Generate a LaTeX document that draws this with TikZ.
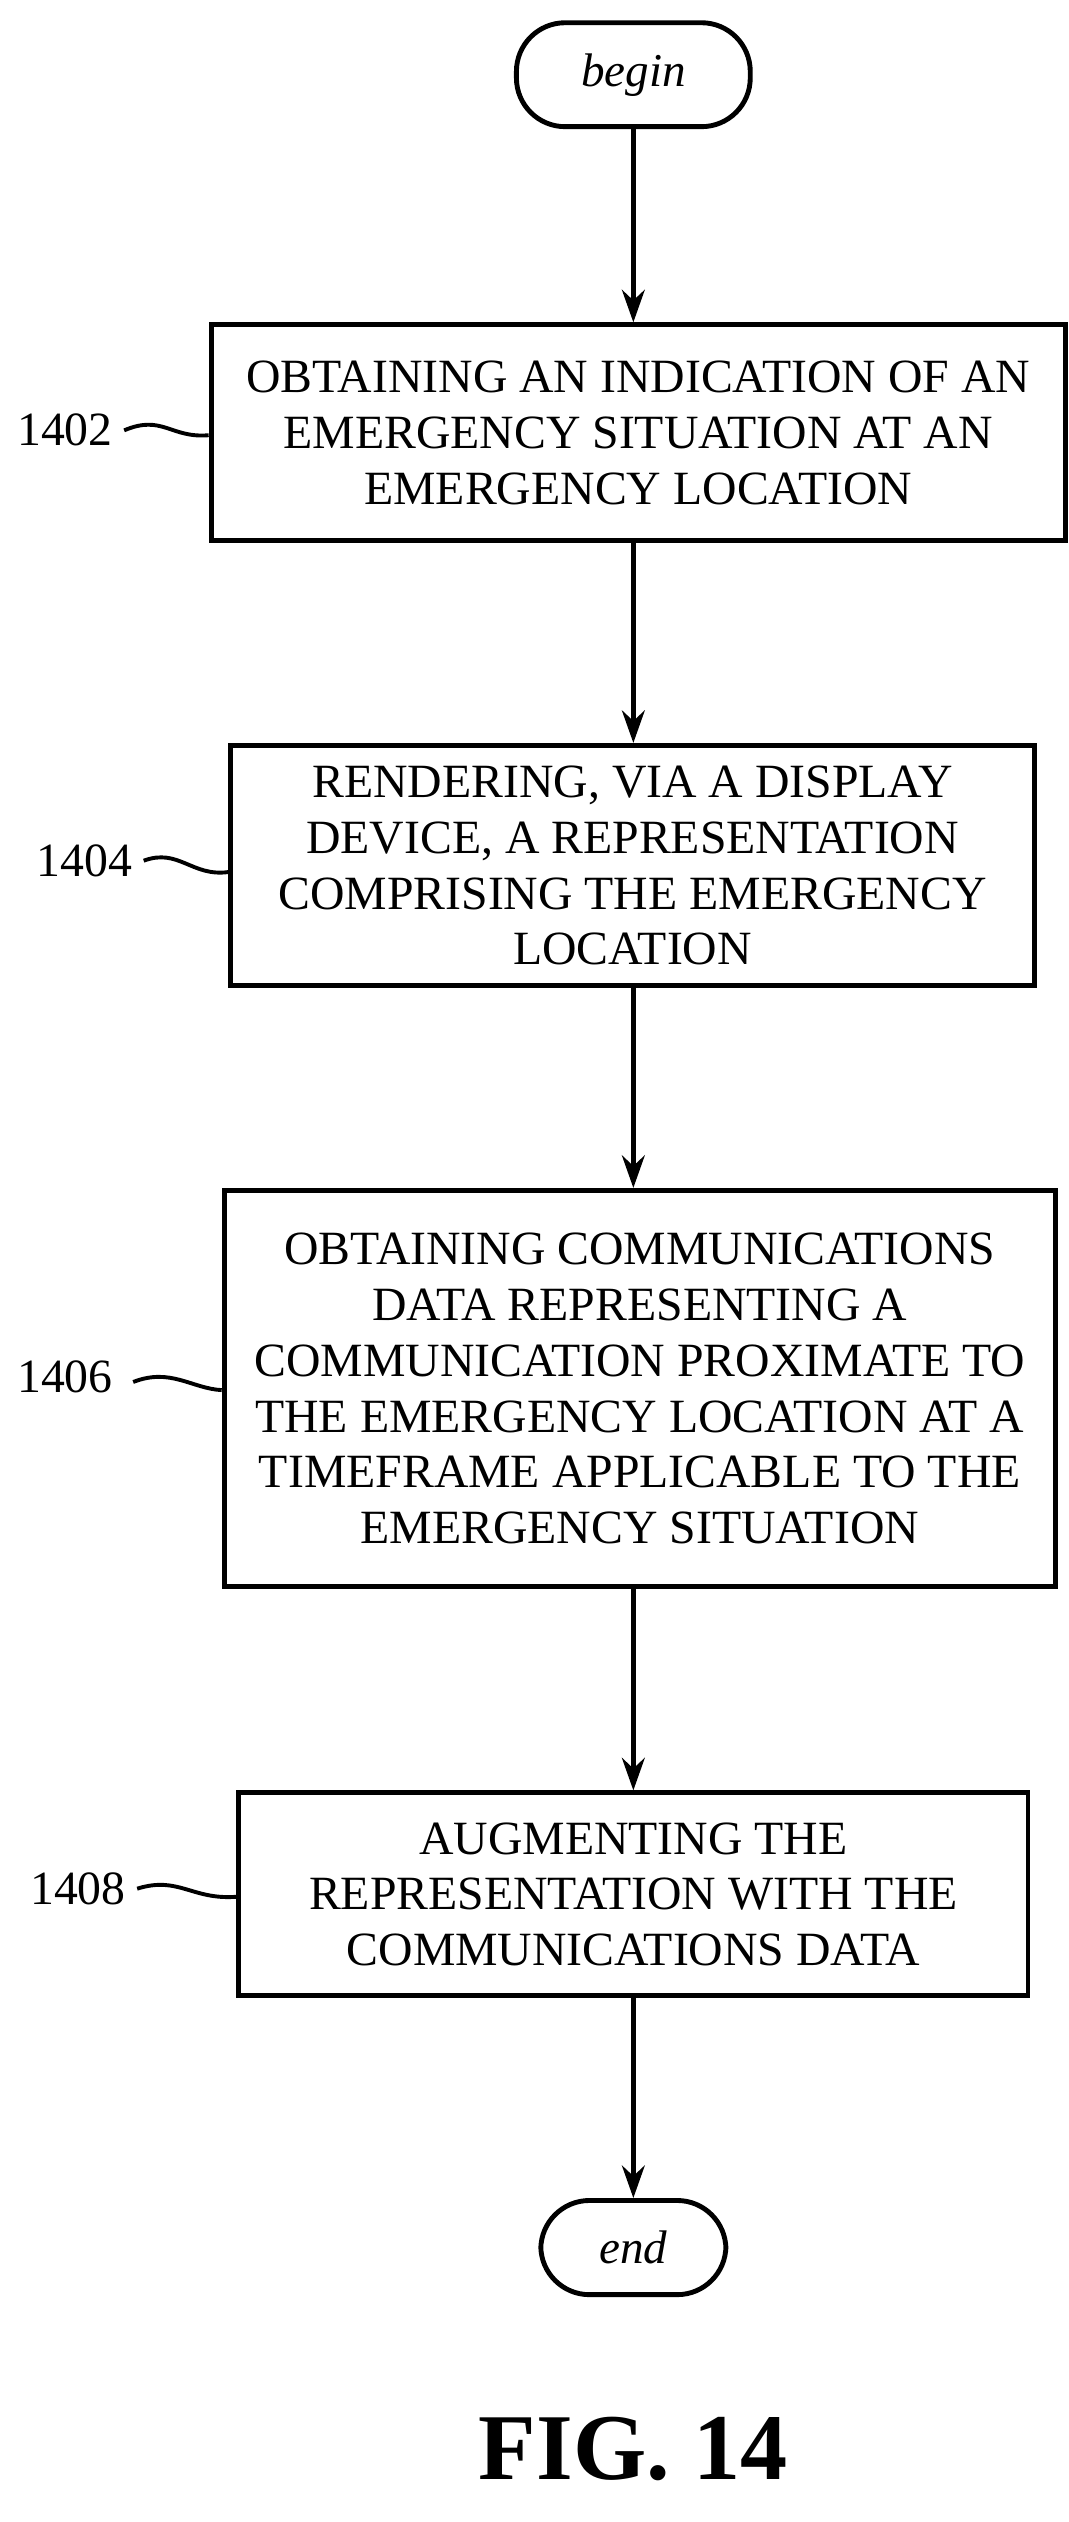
\documentclass[tikz,border=0pt]{standalone}
\usepackage{fontspec}
\setmainfont{Liberation Serif}
\usetikzlibrary{arrows.meta}
\begin{document}
\begin{tikzpicture}[x=0.5pt,y=-0.5pt,
  box/.style={draw,line width=1.5pt,inner sep=0pt,font=\fontsize{14.7}{17.2}\selectfont,align=center},
  term/.style={draw,line width=1.5pt,rounded corners=15pt,font=\fontsize{14.5}{15}\selectfont\itshape},
  arr/.style={-{Stealth[length=10pt,width=7pt]},line width=1.5pt},
  lab/.style={font=\fontsize{14.7}{15}\selectfont},
  sq/.style={line width=1.2pt}]
\useasboundingbox (0,0) rectangle (658,1553);
\node[term,minimum width=72pt,minimum height=32pt] (b) at (390,46) {begin};
\node[box,minimum width=263pt,minimum height=66.5pt] (s1) at (393,266.5) {OBTAINING AN INDICATION OF AN\\EMERGENCY SITUATION AT AN\\EMERGENCY LOCATION};
\node[box,minimum width=247.5pt,minimum height=74pt] (s2) at (389.5,533) {RENDERING, VIA A DISPLAY\\DEVICE, A REPRESENTATION\\COMPRISING THE EMERGENCY\\LOCATION};
\node[box,minimum width=256pt,minimum height=122pt] (s3) at (394,855) {OBTAINING COMMUNICATIONS\\DATA REPRESENTING A\\COMMUNICATION PROXIMATE TO\\THE EMERGENCY LOCATION AT A\\TIMEFRAME APPLICABLE TO THE\\EMERGENCY SITUATION};
\node[box,minimum width=243pt,minimum height=62.5pt] (s4) at (390,1166.5) {AUGMENTING THE\\REPRESENTATION WITH THE\\COMMUNICATIONS DATA};
\node[term,minimum width=57pt,minimum height=29pt] (e) at (390,1384) {end};
\draw[arr] (b) -- (b|-s1.north);
\draw[arr] (s1.south-|b) -- (b|-s2.north);
\draw[arr] (s2.south-|b) -- (b|-s3.north);
\draw[arr] (s3.south-|b) -- (b|-s4.north);
\draw[arr] (s4.south-|b) -- (e);
\node[lab] (l1) at (40,265) {1402};
\node[lab] (l2) at (52,530) {1404};
\node[lab] (l3) at (40,848) {1406};
\node[lab] (l4) at (48,1163) {1408};
\draw[sq] (l1.east) .. controls (100,255) and (105,270) .. (s1.west|-0,268);
\draw[sq] (l2.east) .. controls (110,522) and (118,540) .. (s2.west|-0,537);
\draw[sq] (82,851) .. controls (105,842) and (118,855) .. (s3.west|-0,856);
\draw[sq] (l4.east) .. controls (110,1155) and (118,1170) .. (s4.west|-0,1168);
\node[font=\fontsize{29}{31}\selectfont\bfseries] (fig) at (390,1508) {FIG. 14};
\end{tikzpicture}
\end{document}
